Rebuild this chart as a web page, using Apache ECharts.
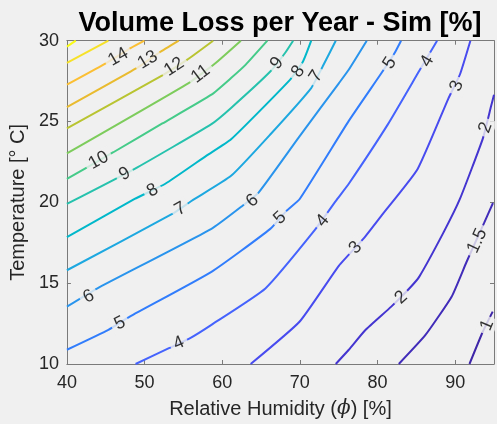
<!DOCTYPE html>
<html><head><meta charset="utf-8">
<script src="https://cdn.jsdelivr.net/npm/echarts@6/dist/echarts.min.js"></script>
<style>html,body{margin:0;padding:0;background:#f0f0f0;}#c{width:497px;height:424px;}</style>
</head><body><div id="c"></div>
<script>
// Contour levels
const levels = [1, 1.5, 2, 3, 4, 5, 6, 7, 8, 9, 10, 11, 12, 13, 14, 15, 16];
// Contour lines, [RH %, Temperature °C]
const contour_1   = [[91.84,10],[93.57,12.01],[94.83,13.24]];
const contour_1_5 = [[82.74,10],[86.15,11.78],[89.56,14.18],[91.46,16.31],[93.73,18.73],[94.87,19.96]];
const contour_2   = [[74.62,10],[76.30,10.88],[78.41,12.09],[81.77,13.55],[84.09,14.67],[85.36,15.39],[88.52,18.16],[90.61,20.21],[93.57,23.96],[94.62,25.94],[95,26.66]];
const contour_3   = [[63.66,10],[69.98,12.63],[75.04,16.09],[78.19,17.75],[80.51,19.18],[85.15,22.05],[89.12,26.42],[90.61,27.91],[91.96,30]];
const contour_4   = [[48.84,10],[53.14,10.98],[55.87,11.60],[58.61,12.42],[65.56,14.67],[71.88,18.26],[74.82,20.21],[76.30,21.15],[81.35,24.84],[85.36,28.12],[87.67,30]];
const contour_5   = [[40,10.88],[45.34,12.11],[48.09,12.93],[58.61,15.70],[66.19,18.36],[68.30,19.49],[69.98,20.21],[76.30,25.04],[80.51,28.00],[82.20,29.24],[83.03,30]];
const contour_6   = [[40,13.55],[43.87,14.67],[58.61,18.36],[62.62,19.79],[64.71,20.62],[69.86,24.02],[75.04,27.38],[76.31,28.22],[78.61,30]];
const contour_7   = [[40,15.80],[53.56,19.28],[56.08,20.10],[61.14,21.64],[66.19,24.20],[71.46,27.07],[72.93,28.40],[74.62,30]];
const contour_8   = [[40,17.85],[48.72,20.21],[52.67,21.15],[57.98,22.89],[61.14,23.90],[68.72,27.58],[70.40,28.71],[71.46,30]];
const contour_9   = [[40,19.90],[48.72,22.07],[58.61,24.84],[61.14,25.84],[66.19,28.09],[68.09,29.24],[69.13,30]];
const contour_10  = [[40,21.45],[45.98,23.10],[52.29,24.88],[58.61,26.66],[61.14,27.69],[63.03,28.52],[65.81,30]];
const contour_11  = [[40,23.03],[55.67,27.38],[59.03,28.57],[62.40,30]];
const contour_12  = [[40,24.57],[52.29,27.86],[55.45,28.81],[58.83,30]];
const contour_13  = [[40,25.89],[49.35,28.41],[51.88,29.26],[54.40,30]];
const contour_14  = [[40,27.28],[44.71,28.52],[48.25,29.55],[49.98,30]];
const contour_15  = [[40,28.63],[45.34,30]];
const contour_16  = [[40,29.63],[41.14,30]];
const contourLines = [contour_1, contour_1_5, contour_2, contour_3, contour_4, contour_5, contour_6, contour_7,
  contour_8, contour_9, contour_10, contour_11, contour_12, contour_13, contour_14, contour_15, contour_16];
// Inline labels: [RH, T, text, angle]
const contourLabels = [
  [46.61,29.00,'14',30],[50.40,28.81,'13',31],[53.81,28.38,'12',33],[57.22,27.95,'11',37],
  [44.08,22.60,'10',29],[47.45,21.76,'9',29],[67.04,28.61,'9',50],
  [51.03,20.74,'8',30],[69.77,28.09,'8',54],[54.61,19.59,'7',30],[72.09,27.79,'7',57],
  [42.82,14.18,'6',27],[63.88,20.10,'6',40],
  [46.82,12.52,'5',27],[67.45,19.04,'5',43],[81.57,28.61,'5',57],
  [54.40,11.29,'4',24],[72.93,18.87,'4',50],[86.41,28.73,'4',60],
  [77.18,17.19,'3',47],[90.20,27.21,'3',70],
  [83.03,14.12,'2',42],[93.92,24.63,'2',70],
  [92.85,17.62,'1.5',65],[94.11,12.40,'1',67]
];
const xTicks = [40,50,60,70,80,90];
const yTicks = [10,15,20,25,30];
// parula-sampled colours per level
const levelColors = ['#3e26a8','#412cb9','#4435d0','#484bef','#4563fd','#317dfc','#2994ed','#1da8e0',
  '#01b8ca','#26c2ad','#45cb89','#7dcc5c','#b9c431','#e9bb2f','#fbbf33','#f6e128','#f9fb15'];

const FONT = 'Liberation Sans';
const axisLineColor = '#7a7a7a';
const chart = echarts.init(document.getElementById('c'), null, {renderer:'canvas'});

const series = contourLines.map((pts, i) => ({
  type:'line', name:String(levels[i]), data:pts, showSymbol:false, symbol:'none', smooth:0.15,
  lineStyle:{width:2, color:levelColors[i]}, z:2, silent:true, clip:true
}));
series.push({
  type:'scatter', z:5, symbolSize:0.1, itemStyle:{color:'rgba(0,0,0,0)'}, silent:true, clip:false,
  data: contourLabels.map(l => ({
    value:[l[0], l[1]],
    label:{show:true, position:'inside', formatter:l[2], rotate:l[3],
      fontSize:18, color:'#000', fontFamily:FONT, backgroundColor:'#f0f0f0', padding:[0,4]}
  }))
});

const baseX = {type:'value', min:40, max:95, interval:10, splitLine:{show:false},
  axisLine:{show:true, onZero:false, lineStyle:{color:axisLineColor, width:1}},
  axisTick:{show:true, inside:true, length:4, lineStyle:{color:axisLineColor}}};
const baseY = {type:'value', min:10, max:30, interval:5, splitLine:{show:false},
  axisLine:{show:true, onZero:false, lineStyle:{color:axisLineColor, width:1}},
  axisTick:{show:true, inside:true, length:4, lineStyle:{color:axisLineColor}}};

chart.setOption({
  animation:false,
  backgroundColor:'#f0f0f0',
  title:{text:'Volume Loss per Year - Sim [%]', left:280, top:10, textAlign:'center', padding:0,
    textStyle:{fontSize:27, fontWeight:'bold', color:'#000', fontFamily:FONT}},
  grid:{left:62.7, top:40.7, width:435.3, height:325.3, containLabel:false},
  xAxis:[
    Object.assign({}, baseX, {position:'bottom',
      axisLabel:{show:true, margin:10, fontSize:18, color:'#262626', fontFamily:FONT,
        formatter:v => xTicks.includes(v) ? String(v) : ''},
      name:'Relative Humidity ({p|ϕ}) [%]', nameLocation:'middle', nameGap:35,
      nameTextStyle:{fontSize:20, color:'#262626', fontFamily:FONT,
        rich:{p:{fontSize:20, fontFamily:'DejaVu Serif', fontStyle:'italic', color:'#262626'}}}}),
    Object.assign({}, baseX, {position:'top', axisLabel:{show:false}})
  ],
  yAxis:[
    Object.assign({}, baseY, {position:'left',
      axisLabel:{show:true, margin:8, fontSize:18, color:'#262626', fontFamily:FONT,
        formatter:v => yTicks.includes(v) ? String(v) : ''},
      name:'Temperature [° C]', nameLocation:'middle', nameGap:31,
      nameTextStyle:{fontSize:20, color:'#262626', fontFamily:FONT}}),
    Object.assign({}, baseY, {position:'right', axisLabel:{show:false}})
  ],
  series: series
});
</script></body></html>
